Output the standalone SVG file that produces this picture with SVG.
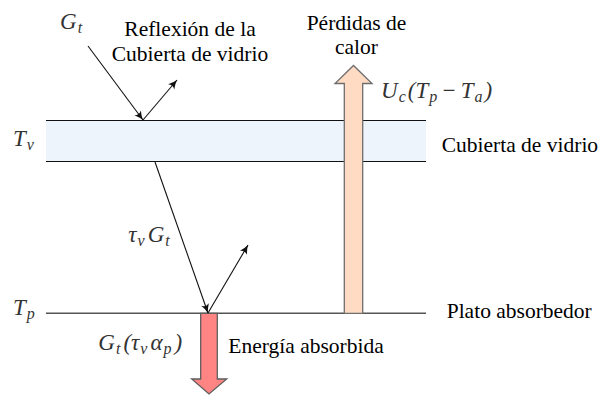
<svg xmlns="http://www.w3.org/2000/svg" width="600" height="395" viewBox="0 0 600 395">
<style>
.ray{stroke:#111;stroke-width:1.1;fill:none;marker-end:url(#ah)}
.up{fill:#FFDBC4;stroke:#6e6e6e;stroke-width:1.3}
.down{fill:#FF8585;stroke:#5e5e5e;stroke-width:1.3}
</style>
<defs>
<marker id="ah" markerUnits="userSpaceOnUse" markerWidth="14" markerHeight="12" viewBox="-10 -6 12 12" refX="0" refY="0" orient="auto">
<path d="M-9,-4 Q-4,-1 0,0 Q-4,1 -9,4 Q-6,0 -9,-4 Z" fill="#111"/>
</marker>
</defs>
<g id="glass">
<rect x="46" y="120.5" width="380" height="41" fill="#EEF4FC"/>
<line x1="46" y1="120.5" x2="426" y2="120.5" stroke="#111" stroke-width="1.2"/>
<line x1="46" y1="161.5" x2="426" y2="161.5" stroke="#111" stroke-width="1.2"/>
</g>
<g id="plate">
<line x1="46" y1="313.3" x2="426" y2="313.3" stroke="#555" stroke-width="1.4"/>
</g>
<g id="losses">
<path class="up" d="M344.3,313.3 L344.3,83.5 L335,83.5 L353.5,65.5 L372,83.5 L362.7,83.5 L362.7,313.3 Z"/>
</g>
<g id="absorbed">
<path class="down" d="M200.7,313.3 L217.3,313.3 L217.3,379 L226.7,379 L209,394 L191.7,379 L200.7,379 Z"/>
</g>
<g id="connectors">
<line class="ray" x1="88" y1="46" x2="143" y2="120"/>
<line class="ray" x1="143" y1="120" x2="177" y2="80"/>
<line class="ray" x1="155" y1="162" x2="208" y2="313"/>
<line class="ray" x1="208" y1="313" x2="248" y2="245"/>
</g>
<g id="labels" font-family="Liberation Serif, serif" font-size="21.5" fill="#000">
<g font-style="italic" font-size="23" fill="#333">
<text x="60" y="29">G<tspan font-size="16" dy="4" dx="1">t</tspan></text>
<text x="381" y="98">U<tspan font-size="16" dy="4" dx="1">c</tspan><tspan dy="-4" dx="2">(T</tspan><tspan font-size="16" dy="4" dx="1">p</tspan><tspan dy="-4" dx="4">−</tspan><tspan dx="4">T</tspan><tspan font-size="16" dy="4" dx="1">a</tspan><tspan dy="-4" dx="2">)</tspan></text>
<text x="13" y="146">T<tspan font-size="16" dy="4" dx="1">v</tspan></text>
<text x="128.3" y="241.7">τ<tspan font-size="16" dy="4" dx="1">v</tspan><tspan dy="-4" dx="3">G</tspan><tspan font-size="16" dy="4" dx="1">t</tspan></text>
<text x="13" y="315">T<tspan font-size="16" dy="4" dx="1">p</tspan></text>
<text x="98.3" y="350">G<tspan font-size="16" dy="4" dx="1">t</tspan><tspan dy="-4" dx="3">(τ</tspan><tspan font-size="16" dy="4" dx="1">v</tspan><tspan dy="-4" dx="3">α</tspan><tspan font-size="16" dy="4" dx="1">p</tspan><tspan dy="-4" dx="3">)</tspan></text>
</g>
<text x="190" y="36" text-anchor="middle">Reflexión de la</text>
<text x="190" y="61" text-anchor="middle">Cubierta de vidrio</text>
<text x="356.5" y="29.5" text-anchor="middle">Pérdidas de</text>
<text x="356.5" y="53.5" text-anchor="middle">calor</text>
<text x="441.7" y="151.7">Cubierta de vidrio</text>
<text x="446.7" y="317.7">Plato absorbedor</text>
<text x="228.3" y="352.7">Energía absorbida</text>
</g>
</svg>
